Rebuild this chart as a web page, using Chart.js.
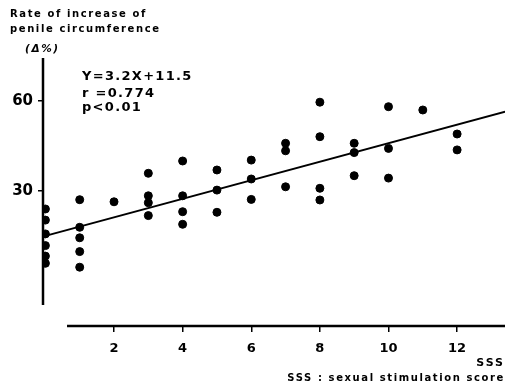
<!DOCTYPE html>
<html>
<head>
<meta charset="utf-8">
<script src="https://cdn.jsdelivr.net/npm/chart.js@4"></script>
<style>
  html, body { margin: 0; padding: 0; background: #fff; }
  canvas { display: block; }
</style>
</head>
<body>
<canvas id="sssChart" width="505" height="384"></canvas>
<script>
// points (SSS score, rate of increase %)
const sssX = [0, 0, 0, 0, 0, 0,
              1, 1, 1, 1, 1,
              2,
              3, 3, 3, 3,
              4, 4, 4, 4,
              5, 5, 5,
              6, 6, 6,
              7, 7, 7,
              8, 8, 8, 8,
              9, 9, 9,
              10, 10, 10,
              11,
              12, 12];
const rateY = [24, 20.3, 15.7, 11.8, 8.3, 5.9,
               27.1, 17.9, 14.4, 9.8, 4.6,
               26.4,
               35.9, 28.4, 26.1, 21.8,
               40, 28.4, 23.1, 18.9,
               37, 30.3, 22.9,
               40.3, 34, 27.2,
               45.9, 43.4, 31.4,
               59.6, 48.1, 30.9, 27,
               45.9, 42.8, 35.1,
               58.1, 44.2, 34.3,
               57,
               49, 43.7];
// regression line ends as drawn
const fitX = [0.08, 13.4];
const fitY = [15.3, 56.4];
const xTicks = [2, 4, 6, 8, 10, 12];
const yTicks = [30, 60];
const noteLines = ['Y=3.2X+11.5', 'r =0.774', 'p<0.01'];

const points = sssX.map((x, i) => ({ x: x, y: rateY[i] }));
const fitLine = fitX.map((x, i) => ({ x: x, y: fitY[i] }));

const FONT = '"DejaVu Sans", sans-serif';

const axesAndText = {
    id: 'axesAndText',
    afterDraw(chart) {
        const ctx = chart.ctx;
        const xs = chart.scales.x, ys = chart.scales.y;
        const area = chart.chartArea;
        ctx.save();
        ctx.strokeStyle = '#000';
        ctx.lineWidth = 2.5;
        // y axis
        ctx.beginPath();
        ctx.moveTo(area.left, area.top);
        ctx.lineTo(area.left, ys.getPixelForValue(-8));
        ctx.stroke();
        // x axis, detached below, runs to the page edge
        ctx.beginPath();
        ctx.moveTo(xs.getPixelForValue(0.63), area.bottom);
        ctx.lineTo(chart.width, area.bottom);
        ctx.stroke();

        ctx.fillStyle = '#000';
        ctx.textBaseline = 'alphabetic';
        ctx.letterSpacing = '1.6px';
        ctx.font = 'bold 10px ' + FONT;
        ctx.textAlign = 'left';
        ctx.fillText('Rate of increase of', 10, 17);
        ctx.fillText('penile circumference', 10, 32);
        ctx.font = 'italic bold 10.5px ' + FONT;
        ctx.fillText('(Δ%)', 25, 52);

        ctx.letterSpacing = '1.3px';
        ctx.font = 'bold 13px ' + FONT;
        ctx.fillText(noteLines[0], 82, 80);
        ctx.fillText(noteLines[1], 82, 97);
        ctx.fillText(noteLines[2], 82, 111);

        ctx.letterSpacing = '2px';
        ctx.textAlign = 'right';
        ctx.font = 'bold 11px ' + FONT;
        ctx.fillText('SSS', 505, 366);
        ctx.letterSpacing = '1.6px';
        ctx.font = 'bold 10px ' + FONT;
        ctx.fillText('SSS : sexual stimulation score', 505, 381);
        ctx.restore();
    }
};

try {
    new Chart(document.getElementById('sssChart'), {
        type: 'scatter',
        data: {
            datasets: [{
                label: 'Subjects',
                data: points,
                backgroundColor: '#000',
                borderColor: '#000',
                pointRadius: 4,
                pointHoverRadius: 4
            }, {
                label: 'Fit',
                data: fitLine,
                showLine: true,
                clip: false,
                borderColor: '#000',
                borderWidth: 2,
                pointRadius: 0
            }]
        },
        options: {
            responsive: false,
            animation: false,
            devicePixelRatio: 1,
            layout: { padding: { top: 58, left: 0, right: 0, bottom: 0 } },
            plugins: { legend: { display: false }, tooltip: { enabled: false } },
            scales: {
                x: {
                    type: 'linear',
                    min: -0.07,
                    max: 13.25,
                    afterBuildTicks: (s) => { s.ticks = xTicks.map(v => ({ value: v })); },
                    afterFit: (s) => { s.height = 58; },
                    border: { display: false },
                    grid: { drawOnChartArea: false, color: '#000', lineWidth: 1.5, tickLength: 6 },
                    ticks: { color: '#000', padding: 9, font: { family: FONT, size: 13, weight: 'bold' } }
                },
                y: {
                    type: 'linear',
                    min: -15,
                    max: 74.33,
                    afterBuildTicks: (s) => { s.ticks = yTicks.map(v => ({ value: v })); },
                    afterFit: (s) => { s.width = 43; },
                    border: { display: false },
                    grid: { drawOnChartArea: false, color: '#000', lineWidth: 1.5, tickLength: 5 },
                    ticks: { color: '#000', padding: 5, font: { family: FONT, size: 15, weight: 'bold' } }
                }
            }
        },
        plugins: [axesAndText]
    });
} catch (e) { console.error('Crash in sssChart', e); }
</script>
</body>
</html>
